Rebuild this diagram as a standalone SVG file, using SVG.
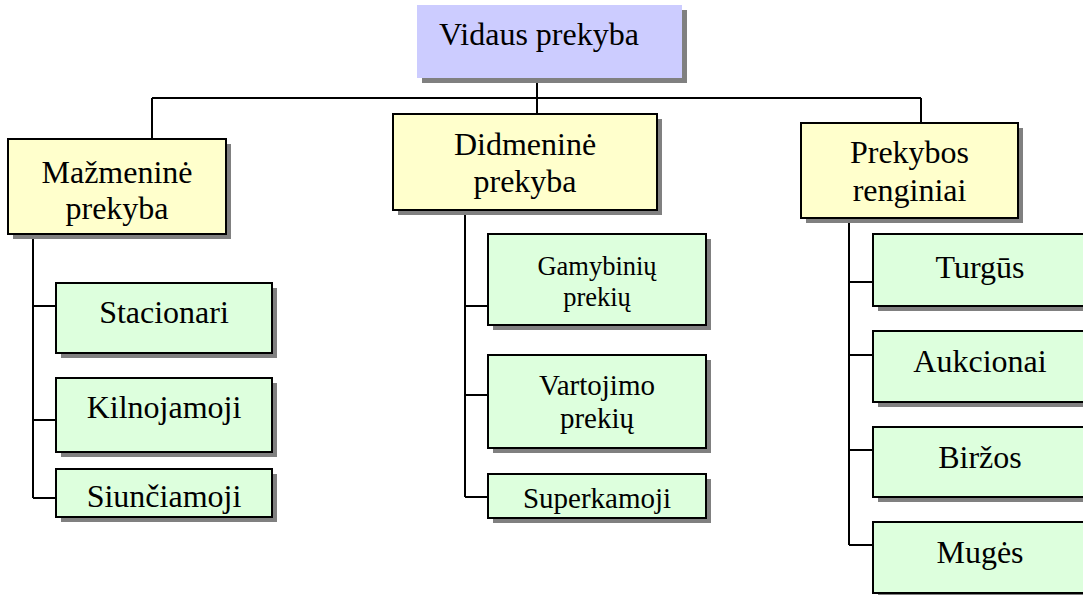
<svg xmlns="http://www.w3.org/2000/svg" width="1083" height="595" viewBox="0 0 1083 595">
<style>
.sh{fill:#808080}
.top{fill:#CCCCFF}
.y{fill:#FFFFCC;stroke:#000;stroke-width:2}
.g{fill:#DDFFDD;stroke:#000;stroke-width:2}
text{font-family:"Liberation Serif","Times New Roman",serif;fill:#000;text-anchor:middle}
.t32{font-size:32px}
.t29{font-size:29px}
.t26{font-size:26.5px}
.c{fill:none;stroke:#000;stroke-width:2}
</style>
<rect width="1083" height="595" fill="#fff"/>
<g id="connectors">
<path class="c" d="M537 78V98M152 98H921M152 98V139M537 98V114M921 98V123"/>
<path class="c" d="M33 234V498M33 306H56M33 420H56M33 498H56"/>
<path class="c" d="M465 210V497M465 306H488M465 395H488M465 497H488"/>
<path class="c" d="M849 218V545M849 282H873M849 355H873M849 450H873M849 545H873"/>
</g>
<g id="vidaus">
<rect class="sh" x="422" y="10" width="265" height="73"/>
<rect class="top" x="417" y="5" width="265" height="73"/>
<text class="t32" x="539" y="45">Vidaus prekyba</text>
</g>
<g id="mazmenine">
<rect class="sh" x="13" y="144" width="218" height="95"/>
<rect class="y" x="8" y="139" width="218" height="95"/>
<text class="t32" x="117" y="183">Mažmeninė</text>
<text class="t32" x="117" y="219">prekyba</text>
</g>
<g id="didmenine">
<rect class="sh" x="398" y="119" width="264" height="96"/>
<rect class="y" x="393" y="114" width="264" height="96"/>
<text class="t32" x="525" y="155">Didmeninė</text>
<text class="t32" x="525" y="192">prekyba</text>
</g>
<g id="prekybos">
<rect class="sh" x="806" y="128" width="217" height="95"/>
<rect class="y" x="801" y="123" width="217" height="95"/>
<text class="t32" x="909.5" y="163">Prekybos</text>
<text class="t32" x="909.5" y="201">renginiai</text>
</g>
<g id="stacionari">
<rect class="sh" x="61" y="288" width="216" height="70"/>
<rect class="g" x="56" y="283" width="216" height="70"/>
<text class="t32" x="164" y="323">Stacionari</text>
</g>
<g id="kilnojamoji">
<rect class="sh" x="61" y="383" width="216" height="74"/>
<rect class="g" x="56" y="378" width="216" height="74"/>
<text class="t32" x="164" y="418">Kilnojamoji</text>
</g>
<g id="siunciamoji">
<rect class="sh" x="61" y="474" width="216" height="48"/>
<rect class="g" x="56" y="469" width="216" height="48"/>
<text class="t32" x="164" y="507">Siunčiamoji</text>
</g>
<g id="gamybiniu">
<rect class="sh" x="493" y="239" width="218" height="91"/>
<rect class="g" x="488" y="234" width="218" height="91"/>
<text class="t26" x="597" y="275">Gamybinių</text>
<text class="t26" x="597" y="306">prekių</text>
</g>
<g id="vartojimo">
<rect class="sh" x="493" y="360" width="218" height="93"/>
<rect class="g" x="488" y="355" width="218" height="93"/>
<text class="t29" x="597" y="395">Vartojimo</text>
<text class="t29" x="597" y="428">prekių</text>
</g>
<g id="superkamoji">
<rect class="sh" x="493" y="479" width="218" height="44"/>
<rect class="g" x="488" y="474" width="218" height="44"/>
<text class="t29" x="597" y="508">Superkamoji</text>
</g>
<g id="turgus">
<rect class="sh" x="878" y="239" width="220" height="72"/>
<rect class="g" x="873" y="234" width="220" height="72"/>
<text class="t32" x="980" y="278">Turgūs</text>
</g>
<g id="aukcionai">
<rect class="sh" x="878" y="336" width="220" height="71"/>
<rect class="g" x="873" y="331" width="220" height="71"/>
<text class="t32" x="980" y="372">Aukcionai</text>
</g>
<g id="birzos">
<rect class="sh" x="878" y="432" width="220" height="70"/>
<rect class="g" x="873" y="427" width="220" height="70"/>
<text class="t32" x="980" y="468">Biržos</text>
</g>
<g id="muges">
<rect class="sh" x="878" y="527" width="220" height="71"/>
<rect class="g" x="873" y="522" width="220" height="71"/>
<text class="t32" x="980" y="563">Mugės</text>
</g>
</svg>
